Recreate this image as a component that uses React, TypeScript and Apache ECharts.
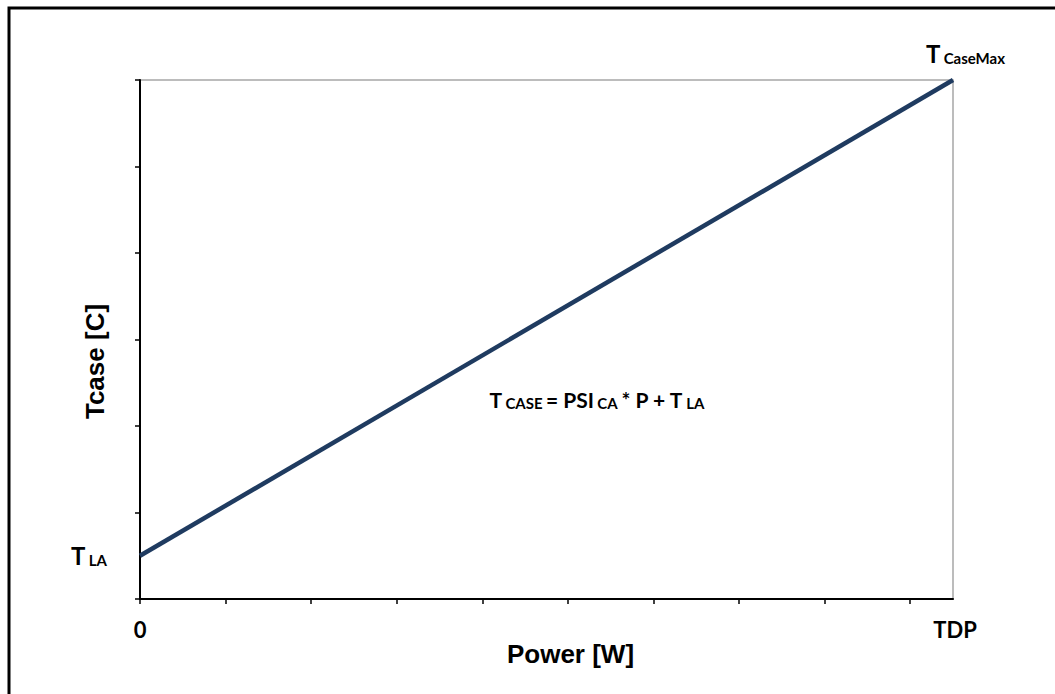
import React, { useEffect, useRef } from "react";
import * as echarts from "echarts";

const powerValues = [0, 9.5];
const tcaseValues = [0.5, 6];
const powerLabels = ["0", "TDP"];
const xTickValues = [0, 1, 2, 3, 4, 5, 6, 7, 8, 9];
const yTickValues = [0, 1, 2, 3, 4, 5, 6];
const xAxisTitle = "Power [W]";
const yAxisTitle = "Tcase [C]";
const xMax = 9.5;
const yMax = 6;

const LATO = "Lato, 'Open Sans', sans-serif";

export default function App() {
  const ref = useRef<HTMLDivElement>(null);
  useEffect(() => {
    document.body.style.margin = "0";
    const chart = echarts.init(ref.current!, null, { renderer: "svg" });
    const lineData = powerValues.map((p, i) => [p, tcaseValues[i]]);
    chart.setOption({
      animation: false,
      backgroundColor: "#ffffff",
      grid: {
        left: 140,
        top: 80,
        right: 102,
        bottom: 95,
        show: true,
        borderColor: "#a6a6a6",
        borderWidth: 1.5,
      },
      xAxis: {
        type: "value",
        min: 0,
        max: xMax,
        interval: 1,
        name: xAxisTitle,
        nameLocation: "middle",
        nameGap: 42,
        nameTextStyle: {
          fontFamily: "'Liberation Sans', Arial",
          fontWeight: "bold",
          fontSize: 26,
          color: "#000",
          padding: [0, 0, 0, 48],
        },
        axisLine: { show: true, onZero: false, lineStyle: { color: "#000", width: 2 } },
        axisTick: { show: true, length: 5, customValues: xTickValues, lineStyle: { color: "#000", width: 1.5 } },
        axisLabel: { show: false },
        splitLine: { show: false },
      },
      yAxis: {
        type: "value",
        min: 0,
        max: yMax,
        interval: 1,
        name: yAxisTitle,
        nameLocation: "middle",
        nameGap: 32,
        nameTextStyle: {
          fontFamily: "'Liberation Sans', Arial",
          fontWeight: "bold",
          fontSize: 26,
          color: "#000",
          padding: [0, 44, 0, 0],
        },
        axisLine: { show: true, onZero: false, lineStyle: { color: "#000", width: 2 } },
        axisTick: { show: true, length: 5, customValues: yTickValues, lineStyle: { color: "#000", width: 1.5 } },
        axisLabel: { show: false },
        splitLine: { show: false },
      },
      series: [
        {
          type: "line",
          data: lineData,
          symbol: "none",
          lineStyle: { color: "#1f3b60", width: 4.5 },
        },
      ],
    });

    const p0 = chart.convertToPixel({ gridIndex: 0 }, [powerValues[0], tcaseValues[0]]) as number[];
    const p1 = chart.convertToPixel({ gridIndex: 0 }, [powerValues[1], tcaseValues[1]]) as number[];
    const origin = chart.convertToPixel({ gridIndex: 0 }, [0, 0]) as number[];
    const xEnd = chart.convertToPixel({ gridIndex: 0 }, [xMax, 0]) as number[];

    const big = { fontFamily: LATO, fontWeight: "bold", fontSize: 24, fill: "#000" };
    const rich = {
      t: { fontFamily: LATO, fontWeight: "bold", fontSize: 24, verticalAlign: "bottom", lineHeight: 26 },
      s: { fontFamily: LATO, fontWeight: "bold", fontSize: 15, verticalAlign: "bottom", lineHeight: 10 },
      ft: { fontFamily: LATO, fontWeight: "bold", fontSize: 21, verticalAlign: "bottom", lineHeight: 22 },
      fs: { fontFamily: LATO, fontWeight: "bold", fontSize: 15, verticalAlign: "bottom", lineHeight: 9 },
    };

    chart.setOption({
      graphic: [
        {
          type: "rect",
          shape: { x: 9, y: 8, width: 1200, height: 900 },
          style: { fill: "none", stroke: "#000", lineWidth: 3 },
          silent: true,
        },
        {
          type: "text",
          x: origin[0],
          y: origin[1] + 30,
          style: { ...big, text: powerLabels[0], align: "center", verticalAlign: "middle", fontSize: 22 },
        },
        {
          type: "text",
          x: xEnd[0] + 2,
          y: origin[1] + 30,
          style: { ...big, text: powerLabels[1], align: "center", verticalAlign: "middle", fontSize: 22 },
        },
        {
          type: "text",
          x: p0[0] - 33,
          y: p0[1] + 12,
          style: { text: "{t|T} {s|LA}", rich, align: "right", verticalAlign: "bottom", fill: "#000" },
        },
        {
          type: "text",
          x: p1[0] + 52,
          y: p1[1] - 15,
          style: { text: "{t|T} {s|CaseMax}", rich, align: "right", verticalAlign: "bottom", fill: "#000" },
        },
        {
          type: "text",
          x: 597,
          y: 410,
          style: {
            text: "{ft|T} {fs|CASE} {ft|= PSI} {fs|CA} {ft|* P + T} {fs|LA}",
            rich,
            align: "center",
            verticalAlign: "bottom",
            fill: "#000",
          },
        },
      ],
    });

    return () => chart.dispose();
  }, []);
  return <div ref={ref} style={{ width: 1055, height: 694 }} />;
}
